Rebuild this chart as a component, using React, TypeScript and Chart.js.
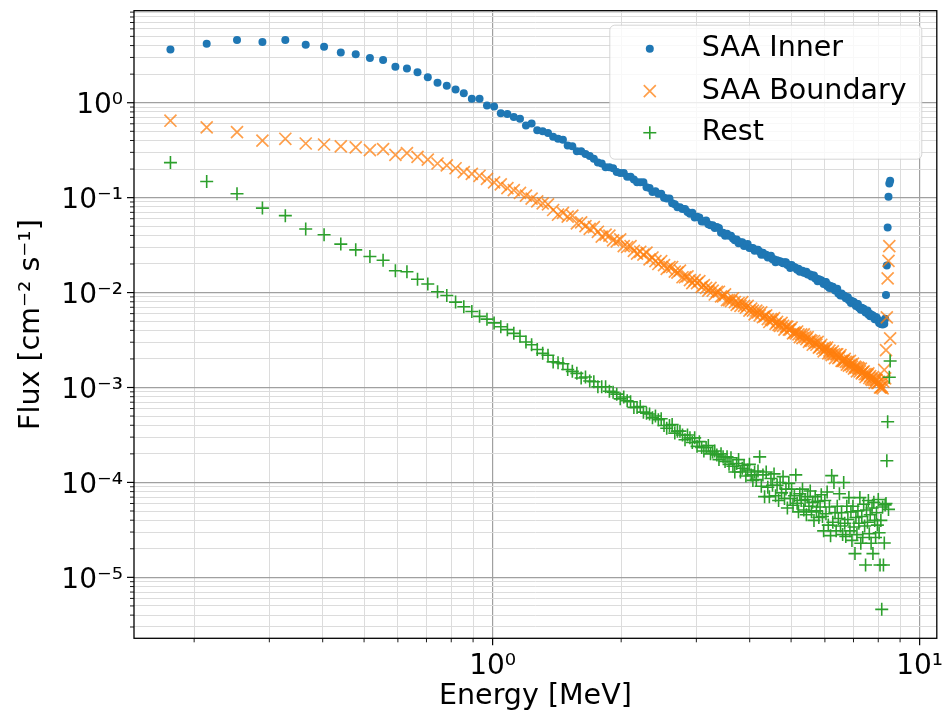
import React, { useEffect, useRef } from 'react';
import { Chart, registerables } from 'chart.js';

Chart.register(...registerables);

// Energy bin centres [MeV]
const energy = [
  0.176, 0.214, 0.252, 0.289, 0.327, 0.365, 0.403, 0.441, 0.478, 0.516,
  0.554, 0.592, 0.630, 0.667, 0.705, 0.743, 0.781, 0.819, 0.856, 0.894,
  0.932, 0.970, 1.008, 1.045, 1.083, 1.121, 1.159, 1.197, 1.234, 1.272,
  1.310, 1.348, 1.386, 1.423, 1.461, 1.499, 1.537, 1.575, 1.612, 1.650,
  1.688, 1.726, 1.764, 1.801, 1.839, 1.877, 1.915, 1.953, 1.990, 2.028,
  2.066, 2.104, 2.142, 2.179, 2.217, 2.255, 2.293, 2.331, 2.368, 2.406,
  2.444, 2.482, 2.520, 2.557, 2.595, 2.633, 2.671, 2.709, 2.746, 2.784,
  2.822, 2.860, 2.898, 2.935, 2.973, 3.011, 3.049, 3.087, 3.124, 3.162,
  3.200, 3.238, 3.276, 3.313, 3.351, 3.389, 3.427, 3.465, 3.502, 3.540,
  3.578, 3.616, 3.654, 3.691, 3.729, 3.767, 3.805, 3.843, 3.880, 3.918,
  3.956, 3.994, 4.032, 4.069, 4.107, 4.145, 4.183, 4.221, 4.258, 4.296,
  4.334, 4.372, 4.410, 4.447, 4.485, 4.523, 4.561, 4.599, 4.636, 4.674,
  4.712, 4.750, 4.788, 4.825, 4.863, 4.901, 4.939, 4.977, 5.014, 5.052,
  5.090, 5.128, 5.166, 5.203, 5.241, 5.279, 5.317, 5.355, 5.392, 5.430,
  5.468, 5.506, 5.544, 5.581, 5.619, 5.657, 5.695, 5.733, 5.770, 5.808,
  5.846, 5.884, 5.922, 5.959, 5.997, 6.035, 6.073, 6.111, 6.148, 6.186,
  6.224, 6.262, 6.300, 6.337, 6.375, 6.413, 6.451, 6.489, 6.526, 6.564,
  6.602, 6.640, 6.678, 6.715, 6.753, 6.791, 6.829, 6.867, 6.904, 6.942,
  6.980, 7.018, 7.056, 7.093, 7.131, 7.169, 7.207, 7.245, 7.282, 7.320,
  7.358, 7.396, 7.434, 7.471, 7.509, 7.547, 7.585, 7.623, 7.660, 7.698,
  7.736, 7.774, 7.812, 7.849, 7.887, 7.925, 7.963, 8.001, 8.038, 8.076,
  8.114, 8.152, 8.190, 8.227, 8.265, 8.303, 8.341, 8.379, 8.416, 8.454,
  8.492, 8.530,
];

// Flux [cm^-2 s^-1] — SAA Inner
const saaInner = [
  3.63, 4.17, 4.57, 4.37, 4.57, 4.07, 3.89, 3.39, 3.24, 2.95,
  2.82, 2.40, 2.29, 2.09, 1.86, 1.62, 1.51, 1.38, 1.26, 1.10,
  1.10, 0.933, 0.912, 0.776, 0.759, 0.708, 0.676, 0.575, 0.603, 0.513,
  0.501, 0.479, 0.437, 0.417, 0.407, 0.355, 0.347, 0.309, 0.309, 0.288,
  0.275, 0.257, 0.234, 0.229, 0.209, 0.209, 0.204, 0.186, 0.182, 0.182,
  0.166, 0.166, 0.155, 0.145, 0.145, 0.145, 0.129, 0.126, 0.115, 0.117,
  0.110, 0.110, 0.100, 0.0977, 0.0977, 0.0871, 0.0851, 0.0794, 0.0794, 0.0759,
  0.0759, 0.0708, 0.0676, 0.0692, 0.0617, 0.0631, 0.0617, 0.0562, 0.0562, 0.0575,
  0.0525, 0.0513, 0.0513, 0.0479, 0.0490, 0.0479, 0.0427, 0.0427, 0.0398, 0.0417,
  0.0398, 0.0398, 0.0372, 0.0355, 0.0363, 0.0331, 0.0339, 0.0339, 0.0309, 0.0316,
  0.0324, 0.0295, 0.0295, 0.0295, 0.0275, 0.0282, 0.0282, 0.0269, 0.0251, 0.0263,
  0.0251, 0.0251, 0.0234, 0.0240, 0.0245, 0.0224, 0.0224, 0.0209, 0.0219, 0.0214,
  0.0214, 0.0209, 0.0204, 0.0209, 0.0209, 0.0195, 0.0195, 0.0182, 0.0195, 0.0186,
  0.0186, 0.0182, 0.0174, 0.0178, 0.0166, 0.0170, 0.0170, 0.0162, 0.0162, 0.0166,
  0.0155, 0.0155, 0.0155, 0.0148, 0.0151, 0.0151, 0.0141, 0.0141, 0.0132, 0.0138,
  0.0135, 0.0135, 0.0129, 0.0123, 0.0129, 0.0129, 0.0117, 0.0120, 0.0112, 0.0117,
  0.0112, 0.0115, 0.0110, 0.0105, 0.0107, 0.0110, 0.00977, 0.00977, 0.00933, 0.00977,
  0.00933, 0.00933, 0.00912, 0.00871, 0.00891, 0.00891, 0.00832, 0.00832, 0.00776, 0.00813,
  0.00794, 0.00794, 0.00759, 0.00724, 0.00759, 0.00759, 0.00692, 0.00692, 0.00661, 0.00692,
  0.00661, 0.00676, 0.00646, 0.00617, 0.00631, 0.00646, 0.00589, 0.00603, 0.00562, 0.00589,
  0.00562, 0.00575, 0.00550, 0.00525, 0.00550, 0.00550, 0.00513, 0.00513, 0.00479, 0.00490,
  0.00468, 0.00468, 0.0046, 0.0050, 0.0047, 0.0053, 0.0094, 0.0193, 0.0486, 0.102,
  0.141, 0.151,
];

// Flux [cm^-2 s^-1] — SAA Boundary
const saaBoundary = [
  0.646, 0.550, 0.490, 0.398, 0.417, 0.372, 0.363, 0.347, 0.339, 0.316,
  0.324, 0.282, 0.295, 0.269, 0.251, 0.229, 0.219, 0.204, 0.186, 0.178,
  0.170, 0.158, 0.145, 0.138, 0.126, 0.120, 0.112, 0.105, 0.0977, 0.0912,
  0.0871, 0.0851, 0.0741, 0.0661, 0.0692, 0.0631, 0.0646, 0.0537, 0.0550, 0.0501,
  0.0468, 0.0490, 0.0437, 0.0389, 0.0407, 0.0398, 0.0355, 0.0347, 0.0363, 0.0309,
  0.0302, 0.0309, 0.0275, 0.0257, 0.0269, 0.0251, 0.0263, 0.0224, 0.0234, 0.0214,
  0.0200, 0.0214, 0.0195, 0.0178, 0.0186, 0.0186, 0.0166, 0.0162, 0.0170, 0.0145,
  0.0145, 0.0148, 0.0135, 0.0126, 0.0135, 0.0126, 0.0132, 0.0115, 0.0120, 0.0112,
  0.0105, 0.0112, 0.0105, 0.00955, 0.0102, 0.0102, 0.00912, 0.00912, 0.00955, 0.00832,
  0.00832, 0.00813, 0.00871, 0.00794, 0.00741, 0.00776, 0.00724, 0.00794, 0.00724, 0.00692,
  0.00724, 0.00646, 0.00676, 0.00646, 0.00589, 0.00646, 0.00617, 0.00575, 0.00617, 0.00550,
  0.00562, 0.00575, 0.00525, 0.00490, 0.00525, 0.00513, 0.00537, 0.00468, 0.00490, 0.00457,
  0.00447, 0.00479, 0.00447, 0.00407, 0.00437, 0.00437, 0.00407, 0.00407, 0.00427, 0.00372,
  0.00380, 0.00372, 0.00389, 0.00363, 0.00339, 0.00363, 0.00331, 0.00363, 0.00339, 0.00324,
  0.00339, 0.00302, 0.00316, 0.00309, 0.00282, 0.00309, 0.00295, 0.00282, 0.00302, 0.00263,
  0.00269, 0.00282, 0.00257, 0.00240, 0.00263, 0.00251, 0.00263, 0.00229, 0.00245, 0.00229,
  0.00219, 0.00240, 0.00224, 0.00204, 0.00224, 0.00224, 0.00204, 0.00209, 0.00219, 0.00191,
  0.00191, 0.00191, 0.00200, 0.00186, 0.00174, 0.00186, 0.00170, 0.00191, 0.00174, 0.00166,
  0.00178, 0.00158, 0.00166, 0.00162, 0.00148, 0.00162, 0.00158, 0.00148, 0.00158, 0.00141,
  0.00145, 0.00148, 0.00138, 0.00129, 0.00138, 0.00135, 0.00141, 0.00126, 0.00132, 0.00123,
  0.00120, 0.00129, 0.00120, 0.00112, 0.00120, 0.00120, 0.00112, 0.00112, 0.00115, 0.00100,
  0.00100, 0.00102, 0.00098, 0.00115, 0.00153, 0.00125, 0.00248, 0.00548, 0.0141, 0.0216,
  0.0309, 0.00329,
];

// Flux [cm^-2 s^-1] — Rest
const rest = [
  0.234, 0.148, 0.110, 0.0776, 0.0646, 0.0468, 0.0407, 0.0324, 0.0282, 0.0240,
  0.0219, 0.0170, 0.0166, 0.0138, 0.0123, 0.0102, 0.00933, 0.00794, 0.00708, 0.00631,
  0.00562, 0.00525, 0.00479, 0.00437, 0.00407, 0.00372, 0.00347, 0.00302, 0.00282, 0.00251,
  0.00229, 0.00219, 0.00186, 0.00182, 0.00178, 0.00155, 0.00148, 0.00141, 0.00126, 0.00129,
  0.00117, 0.00115, 0.00102, 0.00102, 0.00102, 0.000912, 0.000891, 0.000851, 0.000759, 0.000794,
  0.000724, 0.000708, 0.000617, 0.000617, 0.000631, 0.000550, 0.000537, 0.000525, 0.000479, 0.000501,
  0.000457, 0.000468, 0.000398, 0.000372, 0.000398, 0.000407, 0.000331, 0.000347, 0.000347, 0.000316,
  0.000282, 0.000316, 0.000295, 0.000263, 0.000295, 0.000240, 0.000269, 0.000234, 0.000214, 0.000234,
  0.000245, 0.000200, 0.000209, 0.000214, 0.000195, 0.000174, 0.000200, 0.000186, 0.000166, 0.000186,
  0.000155, 0.000182, 0.000148, 0.000129, 0.000158, 0.000174, 0.000129, 0.000141, 0.000151, 0.000117,
  0.000135, 0.000155, 0.000120, 0.000105, 0.000129, 0.000107, 0.000132, 0.000186, 0.0000912, 0.000120,
  0.0000708, 0.000129, 0.0000891, 0.0000708, 0.000110, 0.0000933, 0.000123, 0.0000724, 0.0000933, 0.0000646,
  0.000100, 0.0000776, 0.000115, 0.0000676, 0.0000851, 0.0000537, 0.0000977, 0.0000676, 0.0000851, 0.0000575,
  0.0000724, 0.000120, 0.0000603, 0.0000490, 0.0000759, 0.0000646, 0.0000851, 0.0000513, 0.0000661, 0.0000457,
  0.0000708, 0.0000562, 0.0000813, 0.0000490, 0.0000617, 0.0000398, 0.0000708, 0.0000501, 0.0000631, 0.0000427,
  0.0000550, 0.0000741, 0.0000437, 0.0000309, 0.0000646, 0.0000468, 0.0000794, 0.0000355, 0.0000550, 0.0000275,
  0.000118, 0.0000380, 0.000100, 0.0000479, 0.0000309, 0.0000562, 0.0000417, 0.0000759, 0.0000347, 0.0000479,
  0.0000282, 0.000100, 0.0000372, 0.0000269, 0.0000562, 0.0000407, 0.0000692, 0.0000309, 0.0000490, 0.0000245,
  0.0000562, 0.0000339, 0.0000178, 0.0000427, 0.0000282, 0.0000501, 0.0000372, 0.0000692, 0.0000229, 0.0000437,
  0.0000263, 0.0000589, 0.0000347, 0.0000135, 0.0000513, 0.0000380, 0.0000646, 0.0000288, 0.0000457, 0.0000229,
  0.0000537, 0.0000178, 0.0000617, 0.0000398, 0.0000263, 0.0000479, 0.0000355, 0.0000661, 0.0000295, 0.0000135,
  0.0000398, 0.0000046, 0.000055, 0.0000135, 0.000023, 0.000058, 0.000060, 0.000169, 0.000435, 0.000052,
  0.00128, 0.0019,
];

const seriesNames = ['SAA Inner', 'SAA Boundary', 'Rest'];
const xMajorTicks = [1, 10];
const xTickLabels = ['10\u2070', '10\u00B9'];
const yMajorTicks = [1, 1e-1, 1e-2, 1e-3, 1e-4, 1e-5];
const yTickLabels = ['10\u2070', '10\u207B\u00B9', '10\u207B\u00B2', '10\u207B\u00B3', '10\u207B\u2074', '10\u207B\u2075'];
const minorMultipliers = [2, 3, 4, 5, 6, 7, 8, 9];
const xLimits = [0.1446, 10.97];
const yLimits = [2.28e-6, 9.32];
const xTitle = 'Energy [MeV]';
const yTitle = 'Flux [cm\u207B\u00B2 s\u207B\u00B9]';

const FONT = "'DejaVu Sans', sans-serif";
const TEXT_SIZE = 28.5;
const TICK_SIZE = 28;
const BLUE = '#1f77b4';
const ORANGE = 'rgba(255,127,14,0.75)';
const GREEN = '#2ca02c';
const MAJOR_GRID = '#a0a0a0';
const MINOR_GRID = '#dcdcdc';

function logTicks(min: number, max: number) {
  const out: { value: number; major: boolean }[] = [];
  for (let e = Math.floor(Math.log10(min)); e <= Math.ceil(Math.log10(max)); e++) {
    const base = Math.pow(10, e);
    [1, ...minorMultipliers].forEach((m) => {
      const v = m * base;
      if (v >= min && v <= max) out.push({ value: v, major: m === 1 });
    });
  }
  return out;
}

function labelFor(value: number, majors: number[], labels: string[]) {
  const j = majors.findIndex((m) => Math.abs(value / m - 1) < 1e-6);
  return j >= 0 ? labels[j] : '';
}

const decorPlugin = {
  id: 'decor',
  afterDraw(chart: any) {
    const { ctx, chartArea: a, scales } = chart;
    const xs = scales.x;
    const ys = scales.y;
    ctx.save();
    ctx.strokeStyle = '#000';
    // tick marks
    xs.ticks.forEach((t: any) => {
      const px = xs.getPixelForValue(t.value);
      ctx.lineWidth = t.major ? 1.2 : 0.9;
      ctx.beginPath();
      ctx.moveTo(px, a.bottom);
      ctx.lineTo(px, a.bottom + (t.major ? 7 : 4));
      ctx.stroke();
    });
    ys.ticks.forEach((t: any) => {
      const py = ys.getPixelForValue(t.value);
      ctx.lineWidth = t.major ? 1.2 : 0.9;
      ctx.beginPath();
      ctx.moveTo(a.left, py);
      ctx.lineTo(a.left - (t.major ? 7 : 4), py);
      ctx.stroke();
    });
    // frame
    ctx.lineWidth = 1.3;
    ctx.strokeRect(a.left, a.top, a.right - a.left, a.bottom - a.top);

    // legend
    const bx = a.right - 327;
    const by = a.top + 14.5;
    const bw = 312;
    const bh = 134;
    ctx.beginPath();
    if (ctx.roundRect) ctx.roundRect(bx, by, bw, bh, 5);
    else ctx.rect(bx, by, bw, bh);
    ctx.fillStyle = 'rgba(255,255,255,0.8)';
    ctx.fill();
    ctx.strokeStyle = 'rgba(204,204,204,0.8)';
    ctx.lineWidth = 1;
    ctx.stroke();

    const rows = [by + 23.5, by + 66, by + 107.5];
    const mx = bx + 40;
    // SAA Inner marker
    ctx.fillStyle = BLUE;
    ctx.beginPath();
    ctx.arc(mx, rows[0], 4, 0, Math.PI * 2);
    ctx.fill();
    // SAA Boundary marker
    ctx.strokeStyle = ORANGE;
    ctx.lineWidth = 1.7;
    ctx.beginPath();
    ctx.moveTo(mx - 6, rows[1] - 6);
    ctx.lineTo(mx + 6, rows[1] + 6);
    ctx.moveTo(mx - 6, rows[1] + 6);
    ctx.lineTo(mx + 6, rows[1] - 6);
    ctx.stroke();
    // Rest marker
    ctx.strokeStyle = GREEN;
    ctx.lineWidth = 1.6;
    ctx.beginPath();
    ctx.moveTo(mx - 6.5, rows[2]);
    ctx.lineTo(mx + 6.5, rows[2]);
    ctx.moveTo(mx, rows[2] - 6.5);
    ctx.lineTo(mx, rows[2] + 6.5);
    ctx.stroke();

    ctx.fillStyle = '#000';
    ctx.font = `${TEXT_SIZE}px ${FONT}`;
    ctx.textAlign = 'left';
    ctx.textBaseline = 'middle';
    seriesNames.forEach((name, i) => ctx.fillText(name, bx + 92, rows[i]));
    ctx.restore();
  },
};

export default function App() {
  const ref = useRef<HTMLCanvasElement>(null);

  useEffect(() => {
    const toPoints = (ys: number[]) => energy.map((x, i) => ({ x, y: ys[i] }));
    const chart = new Chart(ref.current as HTMLCanvasElement, {
      type: 'scatter',
      data: {
        datasets: [
          {
            label: seriesNames[0],
            data: toPoints(saaInner),
            pointStyle: 'circle',
            pointRadius: 4,
            pointBorderWidth: 0,
            pointBackgroundColor: BLUE,
            pointBorderColor: BLUE,
            backgroundColor: BLUE,
            borderColor: BLUE,
            order: 2,
          },
          {
            label: seriesNames[1],
            data: toPoints(saaBoundary),
            pointStyle: 'crossRot',
            pointRadius: 8.5,
            pointBorderWidth: 1.7,
            pointBorderColor: ORANGE,
            pointBackgroundColor: ORANGE,
            borderColor: ORANGE,
            order: 1,
          },
          {
            label: seriesNames[2],
            data: toPoints(rest),
            pointStyle: 'cross',
            pointRadius: 6.5,
            pointBorderWidth: 1.6,
            pointBorderColor: GREEN,
            pointBackgroundColor: GREEN,
            borderColor: GREEN,
            order: 0,
          },
        ],
      },
      options: {
        animation: false,
        responsive: false,
        devicePixelRatio: 1,
        events: [],
        layout: { padding: { top: 10.7, right: 7, left: 0, bottom: 0 } },
        plugins: { legend: { display: false }, tooltip: { enabled: false } },
        scales: {
          x: {
            type: 'logarithmic',
            position: 'bottom',
            min: xLimits[0],
            max: xLimits[1],
            afterBuildTicks: (s: any) => {
              s.ticks = logTicks(xLimits[0], xLimits[1]);
            },
            afterFit: (s: any) => {
              s.height = 75.7;
              s.paddingLeft = 0;
              s.paddingRight = 0;
              s.paddingTop = 0;
              s.paddingBottom = 0;
            },
            border: { display: false },
            grid: {
              drawTicks: false,
              color: (c: any) => (c.tick && c.tick.major ? MAJOR_GRID : MINOR_GRID),
              lineWidth: (c: any) => (c.tick && c.tick.major ? 1.2 : 1),
            },
            ticks: {
              autoSkip: false,
              maxRotation: 0,
              minRotation: 0,
              padding: 12,
              color: '#000',
              font: { family: FONT, size: TICK_SIZE },
              callback: (v: any) => labelFor(Number(v), xMajorTicks, xTickLabels),
            },
            title: {
              display: true,
              text: xTitle,
              color: '#000',
              font: { family: FONT, size: TEXT_SIZE },
              padding: { top: 0, bottom: 0 },
            },
          },
          y: {
            type: 'logarithmic',
            position: 'left',
            min: yLimits[0],
            max: yLimits[1],
            afterBuildTicks: (s: any) => {
              s.ticks = logTicks(yLimits[0], yLimits[1]);
            },
            afterFit: (s: any) => {
              s.width = 134;
              s.paddingLeft = 0;
              s.paddingRight = 0;
              s.paddingTop = 0;
              s.paddingBottom = 0;
            },
            border: { display: false },
            grid: {
              drawTicks: false,
              color: (c: any) => (c.tick && c.tick.major ? MAJOR_GRID : MINOR_GRID),
              lineWidth: (c: any) => (c.tick && c.tick.major ? 1.2 : 1),
            },
            ticks: {
              autoSkip: false,
              padding: 11,
              labelOffset: 3,
              color: '#000',
              font: { family: FONT, size: TICK_SIZE },
              callback: (v: any) => labelFor(Number(v), yMajorTicks, yTickLabels),
            },
            title: {
              display: true,
              text: yTitle,
              color: '#000',
              font: { family: FONT, size: TEXT_SIZE },
              padding: { top: 14, bottom: 0 },
            },
          },
        },
      },
      plugins: [decorPlugin],
    } as any);
    return () => chart.destroy();
  }, []);

  return (
    <div style={{ position: 'absolute', left: 0, top: 0, width: 947, height: 714, background: '#fff' }}>
      <canvas ref={ref} width={947} height={714} style={{ display: 'block', width: 947, height: 714 }} />
    </div>
  );
}
